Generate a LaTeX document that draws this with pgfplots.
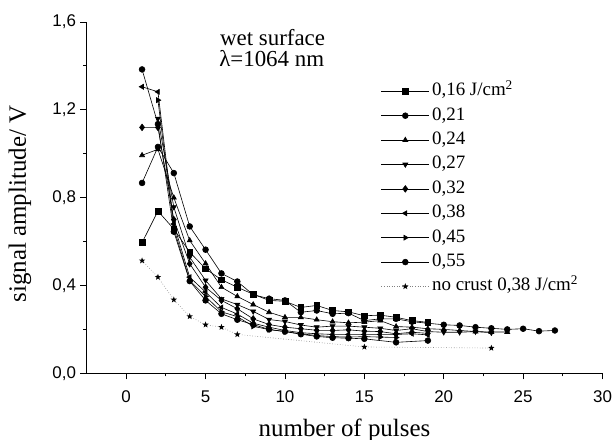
\documentclass[border=0pt]{standalone}
\usepackage{pgfplots}
\pgfplotsset{compat=1.18}
\usepackage{fontspec}
\setmainfont{Liberation Serif}
\newfontfamily\arial{Liberation Sans}
\pgfdeclareplotmark{fstar}{%
  \pgfpathmoveto{\pgfpointpolar{90}{\pgfplotmarksize}}%
  \pgfpathlineto{\pgfpointpolar{126}{0.42\pgfplotmarksize}}%
  \pgfpathlineto{\pgfpointpolar{162}{\pgfplotmarksize}}%
  \pgfpathlineto{\pgfpointpolar{198}{0.42\pgfplotmarksize}}%
  \pgfpathlineto{\pgfpointpolar{234}{\pgfplotmarksize}}%
  \pgfpathlineto{\pgfpointpolar{270}{0.42\pgfplotmarksize}}%
  \pgfpathlineto{\pgfpointpolar{306}{\pgfplotmarksize}}%
  \pgfpathlineto{\pgfpointpolar{342}{0.42\pgfplotmarksize}}%
  \pgfpathlineto{\pgfpointpolar{18}{\pgfplotmarksize}}%
  \pgfpathlineto{\pgfpointpolar{54}{0.42\pgfplotmarksize}}%
  \pgfpathclose\pgfusepathqfill}
\begin{document}
\begin{tikzpicture}
\useasboundingbox (0,0) rectangle (615bp,440bp);
\begin{axis}[
  at={(86.5bp,66.7bp)}, anchor=south west,
  scale only axis, width=516bp, height=351.3bp,
  xmin=-2.5, xmax=30, ymin=0, ymax=1.6,
  axis lines*=left,
  axis line style={line width=1bp},
  xtick={0,5,...,30},
  ytick={0,0.4,0.8,1.2,1.6},
  yticklabels={0{,}0,0{,}4,0{,}8,1{,}2,1{,}6},
  minor x tick num=1, minor y tick num=1,
  tick align=outside,
  major tick length=6bp, minor tick length=3bp,
  tick style={line width=0.9bp,black},
  /pgf/number format/assume math mode=true,
  tick label style={font=\arial\fontsize{17}{17}\selectfont},
  xticklabel style={yshift=-8bp},
  yticklabel style={xshift=-1bp},
  xlabel={number of pulses},
  ylabel={signal amplitude/ V},
  x label style={at={(axis description cs:0.5,-0.1785)},anchor=base,font=\fontsize{25}{25}\selectfont},
  y label style={at={(axis description cs:-0.1289,0.482)},anchor=center,font=\fontsize{25}{25}\selectfont},
  legend image code/.code={\draw[mark repeat=2,mark phase=2,#1] plot coordinates {(0bp,0bp) (24bp,0bp) (48bp,0bp)};},
  legend style={at={(axis cs:16.05,1.34)},anchor=north west,draw=none,fill=none,
    inner sep=0pt,outer sep=0pt,row sep=0pt,
    font=\fontsize{19}{19}\selectfont,
    nodes={inner ysep=3bp,inner xsep=2.5bp,text height=13.6bp,text depth=4.8bp},
    /tikz/every even column/.append style={column sep=4bp}},
  legend cell align=left,
  clip=false,
]
\pgfplotsset{every axis plot/.append style={line width=0.6bp,black,mark size=2.9bp,mark options={solid,fill=black}}}
\addplot[mark=square*] coordinates {(1,0.595)(2,0.739)(3,0.657)(4,0.552)(5,0.476)(6,0.426)(7,0.392)(8,0.36)(9,0.332)(10,0.328)(11,0.30)(12,0.309)(13,0.286)(14,0.280)(15,0.262)(16,0.265)(17,0.255)(18,0.24)(19,0.232)};
\addlegendentry{0,16 J/cm\textsuperscript{2}}
\addplot[mark=*] coordinates {(1,0.867)(2,1.031)(3,0.912)(4,0.669)(5,0.563)(6,0.455)(7,0.418)(8,0.358)(9,0.34)(10,0.332)(11,0.278)(12,0.286)(13,0.271)(14,0.274)(15,0.24)(16,0.248)(17,0.248)(18,0.235)(19,0.228)(20,0.221)(21,0.218)(22,0.21)(23,0.205)(24,0.2)(25,0.203)(26,0.192)(27,0.195)};
\addlegendentry{0,21}
\addplot[mark=triangle*] coordinates {(1,0.993)(2,1.02)(3,0.80)(4,0.605)(5,0.50)(6,0.392)(7,0.35)(8,0.313)(9,0.278)(10,0.255)(11,0.255)(12,0.244)(13,0.235)(14,0.23)(15,0.233)(16,0.24)(17,0.213)(18,0.21)(19,0.203)(20,0.2)(21,0.195)(22,0.19)(23,0.188)(24,0.188)};
\addlegendentry{0,24}
\addplot[mark=triangle*,mark options={rotate=180}] coordinates {(2,1.16)(3,0.757)(4,0.529)(5,0.423)(6,0.339)(7,0.313)(8,0.282)(9,0.245)(10,0.236)(11,0.22)(12,0.21)(13,0.215)(14,0.215)(15,0.21)(16,0.205)(17,0.195)(18,0.203)(19,0.19)(20,0.187)(21,0.187)(22,0.19)(23,0.185)};
\addlegendentry{0,27}
\addplot[mark=diamond*,mark size=3.3bp] coordinates {(1,1.12)(2,1.12)(3,0.70)(4,0.499)(5,0.392)(6,0.332)(7,0.294)(8,0.248)(9,0.222)(10,0.21)(11,0.203)(12,0.196)(13,0.195)(14,0.198)(15,0.192)(16,0.19)(17,0.18)(18,0.187)(19,0.182)};
\addlegendentry{0,32}
\addplot[mark=triangle*,mark options={rotate=90}] coordinates {(1,1.305)(2,1.282)(3,0.68)(4,0.438)(5,0.37)(6,0.30)(7,0.27)(8,0.228)(9,0.21)(10,0.195)(11,0.185)(12,0.18)(13,0.177)(14,0.177)(15,0.177)(16,0.177)(17,0.177)(18,0.18)(19,0.175)};
\addlegendentry{0,38}
\addplot[mark=triangle*,mark options={rotate=270}] coordinates {(2,1.244)(3,0.66)(4,0.423)(5,0.35)(6,0.28)(7,0.258)(8,0.214)(9,0.199)(10,0.19)(11,0.18)(12,0.172)(13,0.167)(14,0.165)(15,0.167)(16,0.165)(17,0.163)};
\addlegendentry{0,45}
\addplot[mark=*] coordinates {(1,1.384)(2,1.135)(3,0.645)(4,0.42)(5,0.332)(6,0.271)(7,0.244)(8,0.222)(9,0.20)(10,0.19)(11,0.178)(12,0.168)(13,0.162)(14,0.16)(15,0.157)(17,0.141)(19,0.149)};
\addlegendentry{0,55}
\addplot[mark=fstar,dotted,gray,mark size=3.3bp,mark options={solid,fill=black,draw=none}] coordinates {(1,0.513)(2,0.438)(3,0.335)(4,0.259)(5,0.221)(6,0.21)(7,0.177)(15,0.12)(23,0.115)};
\addlegendentry{no crust 0,38 J/cm\textsuperscript{2}}
\node[anchor=base west,font=\fontsize{23}{23}\selectfont,inner sep=0pt] at (axis cs:5.9,1.495) {wet surface};
\node[anchor=base west,font=\fontsize{23}{23}\selectfont,inner sep=0pt] at (axis cs:5.85,1.396) {λ=1064 nm};
\end{axis}
\end{tikzpicture}
\end{document}
